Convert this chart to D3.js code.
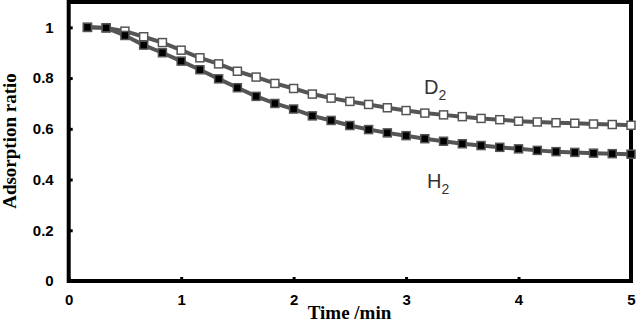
<!DOCTYPE html>
<html>
<head>
<meta charset="utf-8">
<script src="https://cdn.jsdelivr.net/npm/d3@7"></script>
<style>
  html, body { margin: 0; padding: 0; background: #fff; }
  svg { display: block; }
</style>
</head>
<body>
<svg id="chart" width="637" height="322"></svg>
<script>
// time in minutes (every 10 s)
const times = [1/6, 2/6, 3/6, 4/6, 5/6, 1, 7/6, 8/6, 9/6, 10/6, 11/6, 2, 13/6, 14/6, 15/6, 16/6, 17/6, 3,
               19/6, 20/6, 21/6, 22/6, 23/6, 4, 25/6, 26/6, 27/6, 28/6, 29/6, 5];
const d2Values = [1.000, 0.998, 0.985, 0.963, 0.940, 0.910, 0.880, 0.856, 0.827, 0.804, 0.779, 0.759,
                  0.737, 0.721, 0.708, 0.696, 0.683, 0.672, 0.662, 0.655, 0.648, 0.641, 0.636, 0.630,
                  0.627, 0.624, 0.622, 0.619, 0.617, 0.614];
const h2Values = [1.000, 0.998, 0.968, 0.930, 0.900, 0.867, 0.833, 0.797, 0.762, 0.728, 0.700, 0.678,
                  0.651, 0.633, 0.613, 0.597, 0.584, 0.573, 0.561, 0.551, 0.541, 0.534, 0.527, 0.521,
                  0.515, 0.510, 0.507, 0.504, 0.502, 0.500];
const xTicks = [0, 1, 2, 3, 4, 5];
const yTicks = [0, 0.2, 0.4, 0.6, 0.8, 1];
const seriesNames = ["D", "H"];

const svg = d3.select("#chart");
const x = d3.scaleLinear().domain([0, 5]).range([68.7, 631]);
const y = d3.scaleLinear().domain([0, 1.1]).range([281, 2]);

// axes (ticks inward)
const yAxis = svg.append("g").attr("transform", `translate(${x(0)},0)`)
  .call(d3.axisLeft(y).tickValues(yTicks).tickSize(-4).tickPadding(15).tickFormat(d3.format("~g")));
yAxis.select(".domain").remove();
yAxis.selectAll("line").attr("stroke", "#000").attr("stroke-width", 3);
yAxis.selectAll("text").attr("font-family", "Liberation Sans, Arial, sans-serif")
  .attr("font-weight", "bold").attr("font-size", 15).attr("fill", "#000");

const xAxis = svg.append("g").attr("transform", `translate(0,${y(0)})`)
  .call(d3.axisBottom(x).tickValues(xTicks).tickSize(-4).tickPadding(13).tickFormat(d3.format("d")));
xAxis.select(".domain").remove();
xAxis.selectAll("line").attr("stroke", "#000").attr("stroke-width", 3);
xAxis.selectAll("text").attr("font-family", "Liberation Sans, Arial, sans-serif")
  .attr("font-weight", "bold").attr("font-size", 15).attr("fill", "#000");

// frame
svg.append("rect")
  .attr("x", x(0)).attr("y", y(1.1))
  .attr("width", x(5) - x(0)).attr("height", y(0) - y(1.1))
  .attr("fill", "none").attr("stroke", "#000").attr("stroke-width", 4);

// series
const line = d3.line().x(d => x(d[0])).y(d => y(d[1]));
const d2 = times.map((t, i) => [t, d2Values[i]]);
const h2 = times.map((t, i) => [t, h2Values[i]]);

function drawSeries(data, fill) {
  svg.append("path").datum(data).attr("d", line)
    .attr("fill", "none").attr("stroke", "#555").attr("stroke-width", 4);
  svg.append("g").selectAll("rect").data(data).join("rect")
    .attr("x", d => x(d[0]) - 4).attr("y", d => y(d[1]) - 4)
    .attr("width", 8).attr("height", 8)
    .attr("fill", fill).attr("stroke", "#555").attr("stroke-width", 1.5);
}
drawSeries(d2, "#fff");
drawSeries(h2, "#000");

// series labels
function label(name, tx, ty) {
  const t = svg.append("text").attr("x", tx).attr("y", ty)
    .attr("font-family", "Liberation Sans, Arial, sans-serif").attr("font-size", 20).attr("fill", "#333");
  t.append("tspan").text(name);
  t.append("tspan").attr("font-size", 14).attr("dy", 6).text("2");
}
label(seriesNames[0], 424, 94);
label(seriesNames[1], 427, 188);

// axis titles
svg.append("text").attr("x", 349.5).attr("y", 319).attr("text-anchor", "middle")
  .attr("font-family", "Liberation Serif, Times New Roman, serif").attr("font-weight", "bold")
  .attr("font-size", 19).text("Time /min");
svg.append("text").attr("transform", "translate(16,141) rotate(-90)").attr("text-anchor", "middle")
  .attr("font-family", "Liberation Serif, Times New Roman, serif").attr("font-weight", "bold")
  .attr("font-size", 19).text("Adsorption ratio");
</script>
</body>
</html>
